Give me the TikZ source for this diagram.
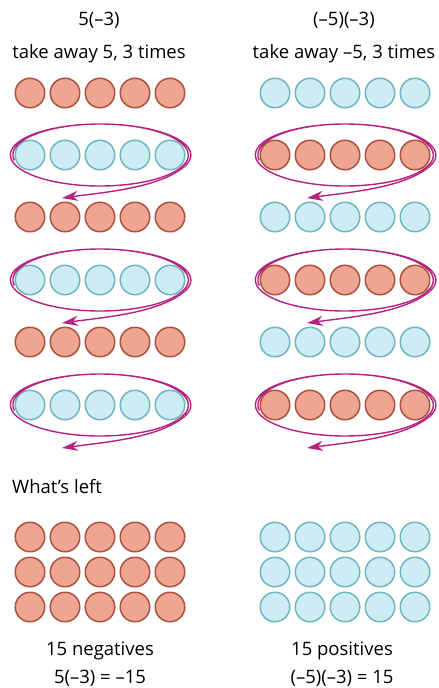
\documentclass[tikz,border=0pt]{standalone}
\usepackage{fontspec}
\setmainfont{Open Sans}
\usetikzlibrary{arrows.meta}
\definecolor{colorNEG}{RGB}{238,165,145}
\definecolor{colorNEGline}{RGB}{172,82,62}
\definecolor{colorPOS}{RGB}{206,236,243}
\definecolor{colorPOSline}{RGB}{112,182,194}
\definecolor{colorTAKE}{RGB}{182,34,128}
\tikzset{
   negc/.style={circle, draw=colorNEGline, fill=colorNEG, line width=1.5pt, minimum size=29.5pt, inner sep=0pt},
   posc/.style={circle, draw=colorPOSline, fill=colorPOS, line width=1.5pt, minimum size=29.5pt, inner sep=0pt},
   loop/.style={draw=colorTAKE, line width=1.4pt},
   take/.style={-{Stealth[length=16pt,width=10pt,inset=5pt]}, draw=colorTAKE, line width=1.4pt},
}

\begin{document}
\begin{tikzpicture}[x=1pt, y=-1pt,
    lbl/.style={font=\fontsize{18.5}{22}\selectfont, inner sep=0pt, anchor=base}
]
\useasboundingbox (0,0) rectangle (439,688);

% ------------------------------------------------------------
% Headings
% ------------------------------------------------------------
\node[lbl] (hL) at (99,25) {5(–3)};
\node[lbl] (sL) at (99,58) {take away 5, 3 times};
\node[lbl] (hR) at (344,25) {(–5)(–3)};
\node[lbl] (sR) at (344,58) {take away –5, 3 times};

% ------------------------------------------------------------
% Left column: 5(-3)
% ------------------------------------------------------------
\foreach \i in {1,...,5} \node[negc] (L1\i) at ({-5+35*\i},93) {};
\foreach \i in {1,...,5} \node[posc] (L2\i) at ({-5+35*\i},155) {};
\foreach \i in {1,...,5} \node[negc] (L3\i) at ({-5+35*\i},217) {};
\foreach \i in {1,...,5} \node[posc] (L4\i) at ({-5+35*\i},280) {};
\foreach \i in {1,...,5} \node[negc] (L5\i) at ({-5+35*\i},342) {};
\foreach \i in {1,...,5} \node[posc] (L6\i) at ({-5+35*\i},405) {};

\coordinate (tipL2) at (62,198);
\coordinate (tipL4) at (62,323);
\coordinate (tipL6) at (62,448);
\coordinate (endL2) at ([shift={(85.5,10.6)}]L23.center);
\coordinate (endL4) at ([shift={(85.5,10.6)}]L43.center);
\coordinate (endL6) at ([shift={(85.5,10.6)}]L63.center);

\draw[loop, shift={(L23)}] plot[domain=170:740, samples=150, smooth]
   ({(87+4*(\x-170)/570)*cos(\x)}, {31*sin(\x)});
\draw[loop, shift={(L43)}] plot[domain=170:740, samples=150, smooth]
   ({(87+4*(\x-170)/570)*cos(\x)}, {31*sin(\x)});
\draw[loop, shift={(L63)}] plot[domain=170:740, samples=150, smooth]
   ({(87+4*(\x-170)/570)*cos(\x)}, {31*sin(\x)});

\draw[take] (endL2) .. controls +(-25,22) and +(45,-6) .. (tipL2);
\draw[take] (endL4) .. controls +(-25,22) and +(45,-6) .. (tipL4);
\draw[take] (endL6) .. controls +(-25,22) and +(45,-6) .. (tipL6);

% ------------------------------------------------------------
% Right column: (-5)(-3)
% ------------------------------------------------------------
\foreach \i in {1,...,5} \node[posc] (R1\i) at ({240+35*\i},93) {};
\foreach \i in {1,...,5} \node[negc] (R2\i) at ({240+35*\i},155) {};
\foreach \i in {1,...,5} \node[posc] (R3\i) at ({240+35*\i},217) {};
\foreach \i in {1,...,5} \node[negc] (R4\i) at ({240+35*\i},280) {};
\foreach \i in {1,...,5} \node[posc] (R5\i) at ({240+35*\i},342) {};
\foreach \i in {1,...,5} \node[negc] (R6\i) at ({240+35*\i},405) {};

\coordinate (tipR2) at (307,198);
\coordinate (tipR4) at (307,323);
\coordinate (tipR6) at (307,448);
\coordinate (endR2) at ([shift={(85.5,10.6)}]R23.center);
\coordinate (endR4) at ([shift={(85.5,10.6)}]R43.center);
\coordinate (endR6) at ([shift={(85.5,10.6)}]R63.center);

\draw[loop, shift={(R23)}] plot[domain=170:740, samples=150, smooth]
   ({(87+4*(\x-170)/570)*cos(\x)}, {31*sin(\x)});
\draw[loop, shift={(R43)}] plot[domain=170:740, samples=150, smooth]
   ({(87+4*(\x-170)/570)*cos(\x)}, {31*sin(\x)});
\draw[loop, shift={(R63)}] plot[domain=170:740, samples=150, smooth]
   ({(87+4*(\x-170)/570)*cos(\x)}, {31*sin(\x)});

\draw[take] (endR2) .. controls +(-25,22) and +(45,-6) .. (tipR2);
\draw[take] (endR4) .. controls +(-25,22) and +(45,-6) .. (tipR4);
\draw[take] (endR6) .. controls +(-25,22) and +(45,-6) .. (tipR6);

% ------------------------------------------------------------
% What's left
% ------------------------------------------------------------
\node[lbl, anchor=base west] (wl) at (12,493) {What’s left};

\foreach \i in {1,...,5} \node[negc] (LG1\i) at ({-5+35*\i},537) {};
\foreach \i in {1,...,5} \node[negc] (LG2\i) at ({-5+35*\i},572) {};
\foreach \i in {1,...,5} \node[negc] (LG3\i) at ({-5+35*\i},607) {};

\foreach \i in {1,...,5} \node[posc] (RG1\i) at ({240+35*\i},537) {};
\foreach \i in {1,...,5} \node[posc] (RG2\i) at ({240+35*\i},572) {};
\foreach \i in {1,...,5} \node[posc] (RG3\i) at ({240+35*\i},607) {};

\node[lbl] (cL) at (100,655) {15 negatives};
\node[lbl] (eL) at (100,683) {5(–3) = –15};
\node[lbl] (cR) at (342,655) {15 positives};
\node[lbl] (eR) at (342,683) {(–5)(–3) = 15};
\end{tikzpicture}
\end{document}
